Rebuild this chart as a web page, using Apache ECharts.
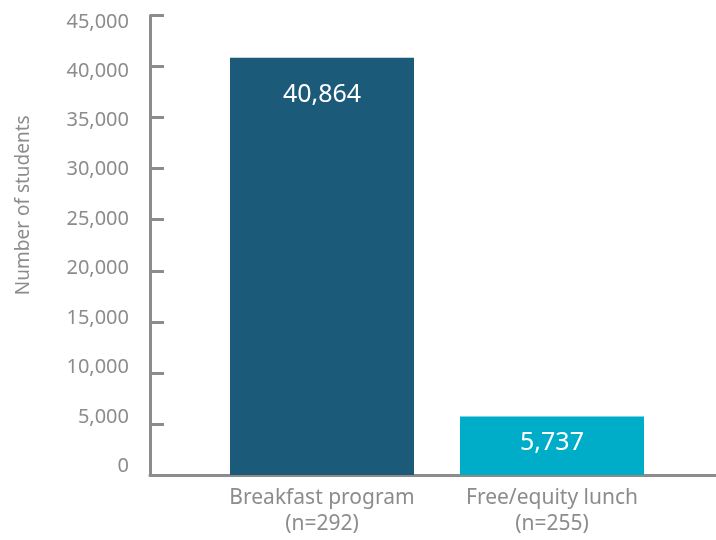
<!DOCTYPE html>
<html><head><meta charset="utf-8">
<script src="https://cdn.jsdelivr.net/npm/echarts@6/dist/echarts.min.js"></script>
<style>html,body{margin:0;padding:0;background:#fff}#c{width:716px;height:540px}</style>
</head><body><div id="c"></div>
<script>
const categories = ["Breakfast program\n(n=292)", "Free/equity lunch\n(n=255)"];
const values = [40864, 5737];
const yTicks = [0, 5000, 10000, 15000, 20000, 25000, 30000, 35000, 40000, 45000];
const barColors = ["#1c5a79", "#00adc8"];
const yName = "Number of students";

const font = "'Source Sans Pro', 'Noto Sans', sans-serif";
const gray = "#8c8c8c";
const chart = echarts.init(document.getElementById('c'));
const fmt = v => v.toLocaleString('en-US');
const yMax = yTicks[yTicks.length-1];
// small vertical nudge of tick labels (labels sit slightly closer to the middle than ticks)
const rich = {};
yTicks.forEach((t, i) => {
  const d = Math.round(6.5 - 15.5 * (yMax - t) / yMax);
  rich['r' + i] = {color: gray, fontFamily: font, fontSize: 20,
    padding: d >= 0 ? [2 * d, 0, 0, 0] : [0, 0, -2 * d, 0]};
});
chart.setOption({
  animation: false,
  grid: [
    {left: 207, right: 49, top: 15.5, bottom: 65},
    {left: 150, right: 0, top: 15.5, bottom: 65}
  ],
  xAxis: [
    {type: 'category', gridIndex: 0, data: categories,
     axisLine: {show: false}, axisTick: {show: false},
     axisLabel: {interval: 0, hideOverlap: false, color: gray, fontFamily: font, fontSize: 21, lineHeight: 26, margin: 10}},
    {type: 'value', gridIndex: 1, min: 0, max: 1,
     axisLine: {show: true, lineStyle: {color: gray, width: 3}},
     axisTick: {show: false}, axisLabel: {show: false}, splitLine: {show: false}}
  ],
  yAxis: [
    {type: 'value', gridIndex: 0, min: yTicks[0], max: yMax, interval: yTicks[1]-yTicks[0],
     offset: 57,
     name: yName, nameLocation: 'middle', nameGap: 117,
     nameTextStyle: {color: gray, fontFamily: font, fontSize: 19, padding: [0, 0, 0, 80]},
     axisLine: {show: true, lineStyle: {color: gray, width: 3}},
     axisTick: {show: true, inside: true, length: 14, lineStyle: {color: gray, width: 3}},
     axisLabel: {color: gray, fontFamily: font, fontSize: 20, margin: 21,
       formatter: v => '{r' + yTicks.indexOf(v) + '|' + fmt(v) + '}', rich: rich},
     splitLine: {show: false}},
    {type: 'value', gridIndex: 1, show: false, min: 0, max: 1}
  ],
  series: [{
    type: 'bar', xAxisIndex: 0, yAxisIndex: 0, barWidth: '80%',
    data: values.map((v, i) => ({
      value: v,
      itemStyle: {color: barColors[i]},
      label: i === 0 ? {position: 'insideTop', distance: 25} : {position: 'insideTop', distance: 14}
    })),
    label: {show: true, color: '#fff', fontFamily: font, fontSize: 25, formatter: p => fmt(p.value)}
  }]
});
</script></body></html>
